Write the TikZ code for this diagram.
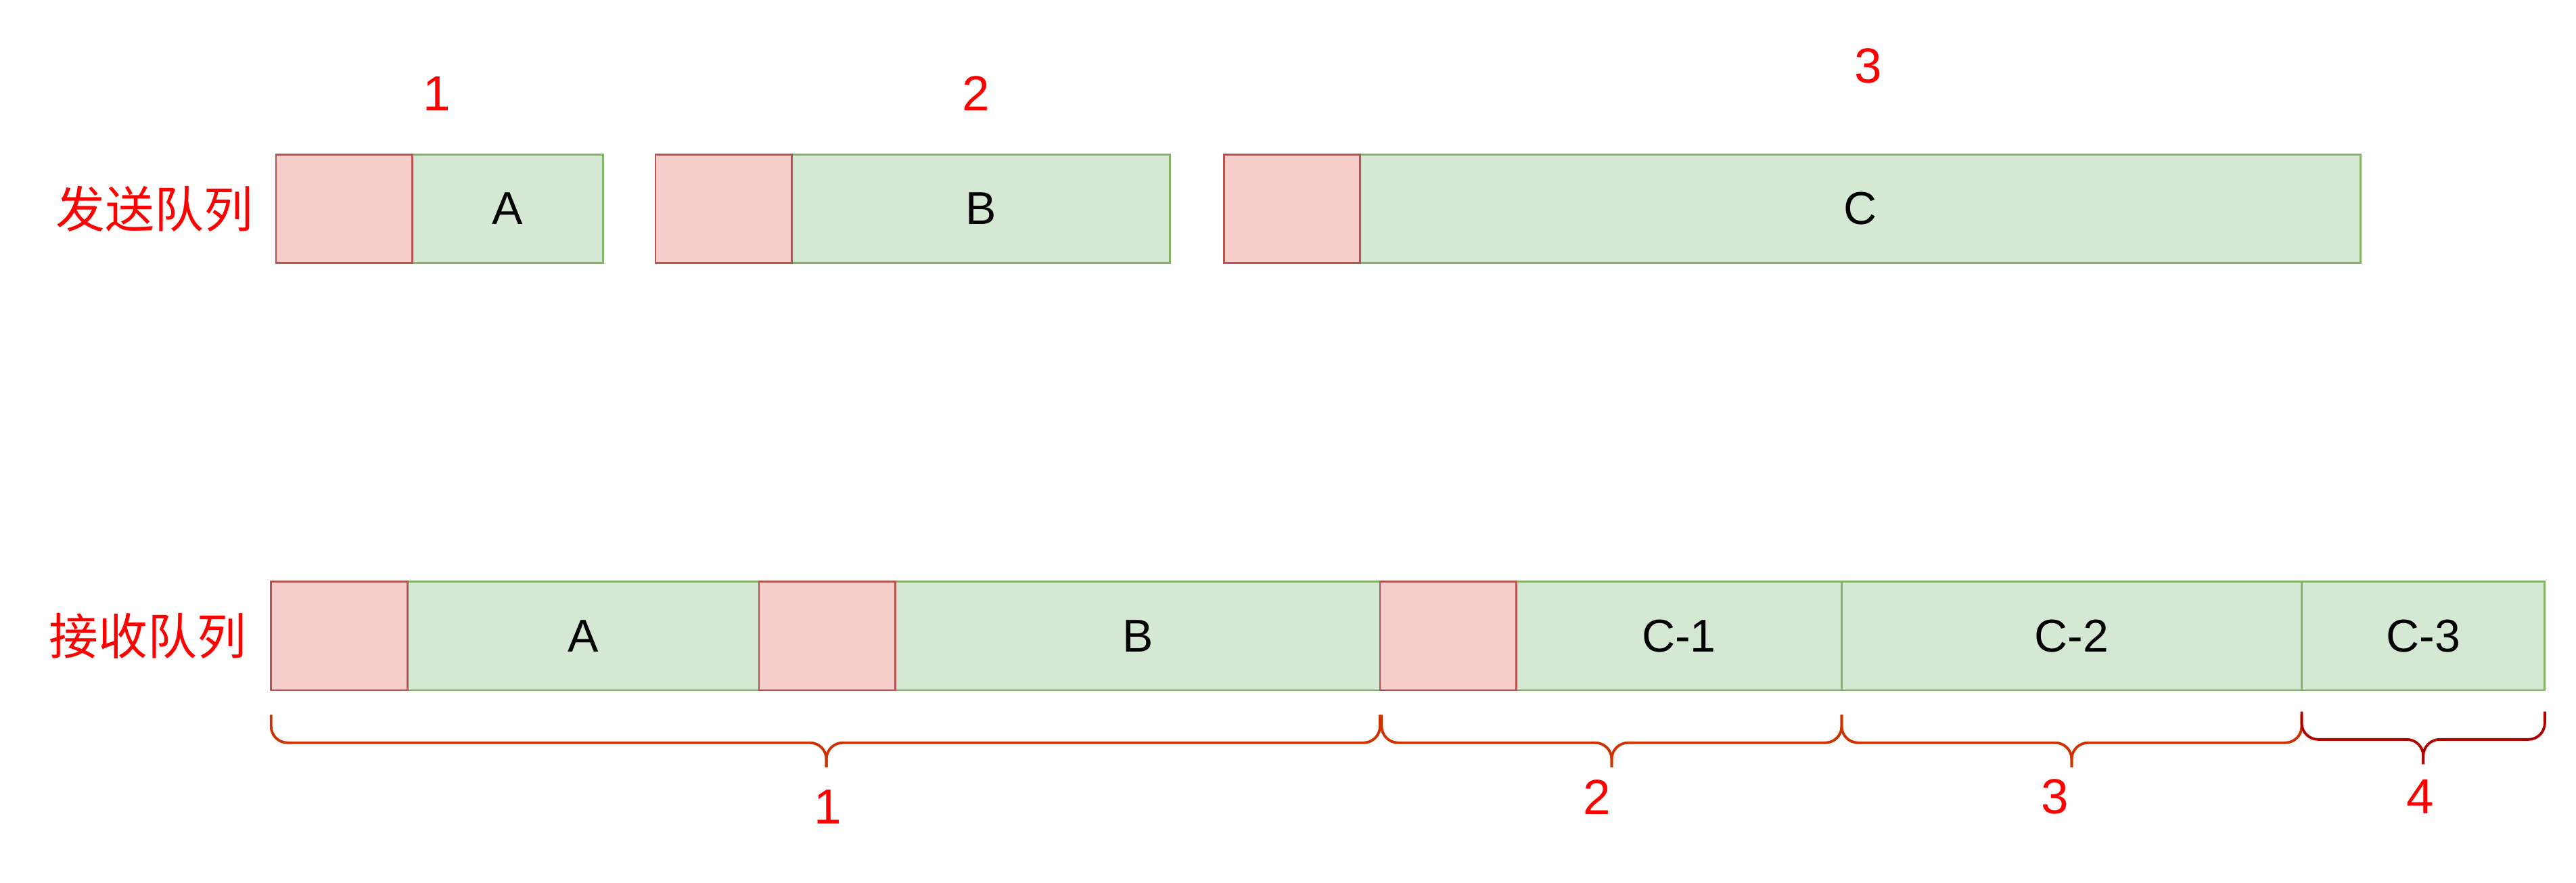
\documentclass[tikz,border=0pt]{standalone}
\usepackage{fontspec}
\setmainfont{Liberation Sans}
\newfontfamily\cjk{Noto Sans CJK SC}
\usepackage{tikz}
\usetikzlibrary{positioning}

\definecolor{hdrfill}{HTML}{F8CECC}
\definecolor{hdrline}{HTML}{B85450}
\definecolor{datafill}{HTML}{D5E8D4}
\definecolor{dataline}{HTML}{82B366}
\definecolor{bracecol}{HTML}{CC3300}
\definecolor{bracedark}{HTML}{B20000}

\begin{document}
\begin{tikzpicture}[x=1pt, y=1pt,
    seg/.style={rectangle, inner sep=0pt, outer sep=0pt, minimum height=66pt, line width=1.2pt,
        font=\fontsize{28}{34}\selectfont},
    hdr/.style={seg, fill=hdrfill, draw=hdrline, minimum width=83pt},
    data/.style={seg, fill=datafill, draw=dataline},
    num/.style={text=red, font=\fontsize{30}{36}\selectfont},
    qname/.style={text=red, font=\cjk\fontsize{30}{36}\selectfont},
    curly/.style={line width=1.6pt, rounded corners=10pt}]
    \useasboundingbox (0,0) rectangle (1568,-537);

    % send queue
    \node[data, minimum width=116pt, anchor=north west] (sA) at (251,-94) {A};
    \node[data, minimum width=230pt, right=115pt of sA] (sB) {B};
    \node[data, minimum width=609pt, right=116pt of sB] (sC) {C};
    \node[hdr, left=0pt of sA] (sH1) {};
    \node[hdr, left=0pt of sB] (sH2) {};
    \node[hdr, left=0pt of sC] (sH3) {};
    \node[qname] (send) at (94,-127) {发送队列};
    \node[num] (sn1) at (266,-57) {1};
    \node[num] (sn2) at (594,-57) {2};
    \node[num] (sn3) at (1137,-40) {3};

    % receive queue
    \node[data, minimum width=214pt, anchor=north west] (rA) at (248,-354) {A};
    \node[data, minimum width=295pt, right=83pt of rA] (rB) {B};
    \node[data, minimum width=198pt, right=83pt of rB] (rC1) {C-1};
    \node[data, minimum width=280pt, right=0pt of rC1] (rC2) {C-2};
    \node[data, minimum width=148pt, right=0pt of rC2] (rC3) {C-3};
    \node[hdr, left=0pt of rA] (rH1) {};
    \node[hdr, left=0pt of rB] (rH2) {};
    \node[hdr, left=0pt of rC1] (rH3) {};
    \node[qname] (recv) at (90,-387) {接收队列};

    % braces under the receive queue
    \foreach \l/\r/\m/\t/\b/\c in {165/840/503/-435/-452/bracecol, 841/1121/981/-435/-452/bracecol,
        1121/1401/1261/-435/-452/bracecol, 1401/1549/1475/-433/-450/bracedark}{
        \draw[curly, draw=\c] (\l,\t) -- (\l,\b) -- (\m,\b) -- (\m,\b-15);
        \draw[curly, draw=\c] (\r,\t) -- (\r,\b) -- (\m,\b) -- (\m,\b-15);
    }
    \node[num] (rn1) at (504,-491) {1};
    \node[num] (rn2) at (972,-485) {2};
    \node[num] (rn3) at (1251,-485) {3};
    \node[num] (rn4) at (1473,-485) {4};
\end{tikzpicture}
\end{document}
